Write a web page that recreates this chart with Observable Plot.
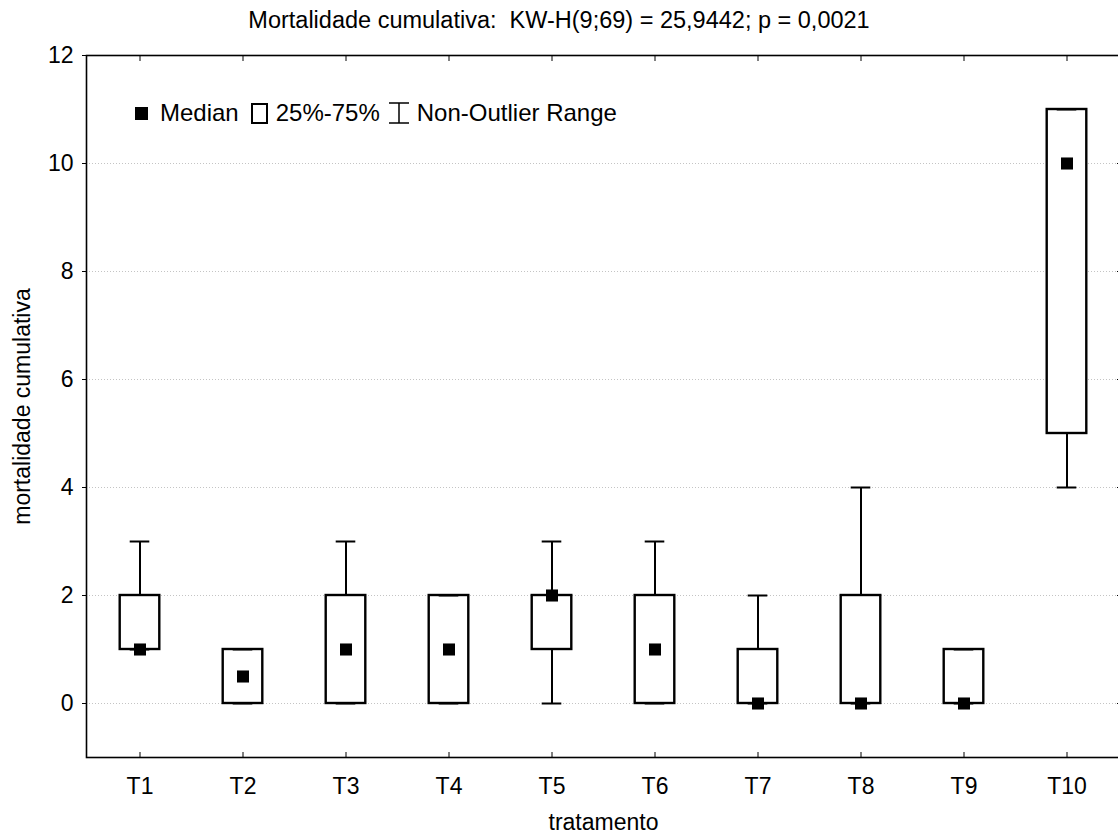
<!DOCTYPE html>
<html>
<head>
<meta charset="utf-8">
<script src="https://cdn.jsdelivr.net/npm/d3@7"></script>
<script src="https://cdn.jsdelivr.net/npm/@observablehq/plot@0.6"></script>
<style>
  body { margin: 0; background: #fff; overflow: hidden; font-family: "Liberation Sans", Arial, sans-serif; }
  #wrap { position: relative; width: 1118px; height: 836px; overflow: hidden; background: #fff; }
  #title { height: 40px; line-height: 40px; text-align: center; font-size: 23.5px; color: #000; width: 1118px; white-space: pre; }
  #legend { position: absolute; left: 135px; top: 100px; height: 26px; display: flex; align-items: center; font-size: 24px; color: #000; white-space: nowrap; }
  #legend .sq { width: 13px; height: 13px; background: #000; margin-right: 12px; }
  #legend .bx { width: 13px; height: 17px; border: 2px solid #000; background: #fff; margin: 0 8px 0 12px; }
  #legend svg { margin: 0 8px 0 9px; }
  #chart svg { max-width: none !important; }
</style>
</head>
<body>
<div id="wrap">
  <div id="title">Mortalidade cumulativa:  KW-H(9;69) = 25,9442; p = 0,0021</div>
  <div id="chart"></div>
  <div id="legend">
    <div class="sq"></div><span>Median</span>
    <div class="bx"></div><span>25%-75%</span>
    <svg width="20" height="22" viewBox="0 0 20 22"><path d="M0,1H20M10,1V21M0,21H20" stroke="#000" stroke-width="1.5" fill="none"/></svg><span>Non-Outlier Range</span>
  </div>
</div>
<script>
const treatments = ["T1","T2","T3","T4","T5","T6","T7","T8","T9","T10"];
const whiskerMin = [1, 0, 0, 0, 0, 0, 0, 0, 0, 4];
const quartile1  = [1, 0, 0, 0, 1, 0, 0, 0, 0, 5];
const medians    = [1, 0.5, 1, 1, 2, 1, 0, 0, 0, 10];
const quartile3  = [2, 1, 2, 2, 2, 2, 1, 2, 1, 11];
const whiskerMax = [3, 1, 3, 2, 3, 3, 2, 4, 1, 11];
const yTicks = [0, 2, 4, 6, 8, 10, 12];

const rows = treatments.map((t, i) => ({
  t, lo: whiskerMin[i], q1: quartile1[i], med: medians[i], q3: quartile3[i], hi: whiskerMax[i]
}));

const W = 1124, H = 796, ML = 86, MR = 4;
const band = (W - ML - MR) / treatments.length;
const boxInset = (band - 40) / 2;
const capInset = (band - 20) / 2;

const chart = Plot.plot({
  width: W,
  height: H,
  marginLeft: ML,
  marginRight: MR,
  marginTop: 15,
  marginBottom: 79,
  style: { fontFamily: "Liberation Sans, Arial, sans-serif", fontSize: "23px", color: "#000", background: "#fff", maxWidth: "none" },
  x: { domain: treatments, padding: 0, label: null },
  y: { domain: [-1, 12], label: null },
  marks: [
    Plot.gridY(yTicks, { stroke: "#c4c4c4", strokeOpacity: 1, strokeDasharray: "1,2", strokeWidth: 1 }),
    Plot.ruleX(rows, { x: "t", y1: "lo", y2: "hi", stroke: "#000", strokeWidth: 2 }),
    Plot.barY(rows, { x: "t", y1: "q1", y2: "q3", fill: "#fff", stroke: "#000", strokeWidth: 2.4, insetLeft: boxInset, insetRight: boxInset }),
    Plot.tickY(rows, { x: "t", y: "lo", stroke: "#000", strokeWidth: 2, insetLeft: capInset, insetRight: capInset }),
    Plot.tickY(rows, { x: "t", y: "hi", stroke: "#000", strokeWidth: 2, insetLeft: capInset, insetRight: capInset }),
    Plot.dot(rows, { x: "t", y: "med", symbol: "square", r: 6.8, fill: "#000", stroke: null }),
    Plot.frame({ stroke: "#000", strokeWidth: 1.6 }),
    Plot.axisY(yTicks, { anchor: "left", tickSize: 4, tickPadding: 9, tickFormat: d => String(d), label: "mortalidade cumulativa", labelArrow: "none", labelAnchor: "center", labelOffset: 73, fontSize: 23 }),
    Plot.axisY(yTicks, { anchor: "right", tickSize: -4, tickFormat: () => "", label: null }),
    Plot.axisX({ anchor: "bottom", tickSize: -5, tickFormat: () => "", label: null }),
    Plot.axisX({ anchor: "bottom", tickSize: 0, tickPadding: 20, label: "tratamento", labelArrow: "none", labelAnchor: "center", labelOffset: 72, fontSize: 23 }),
    Plot.axisX({ anchor: "top", tickSize: -5, tickFormat: () => "", label: null })
  ]
});
document.getElementById("chart").appendChild(chart);
</script>
</body>
</html>
